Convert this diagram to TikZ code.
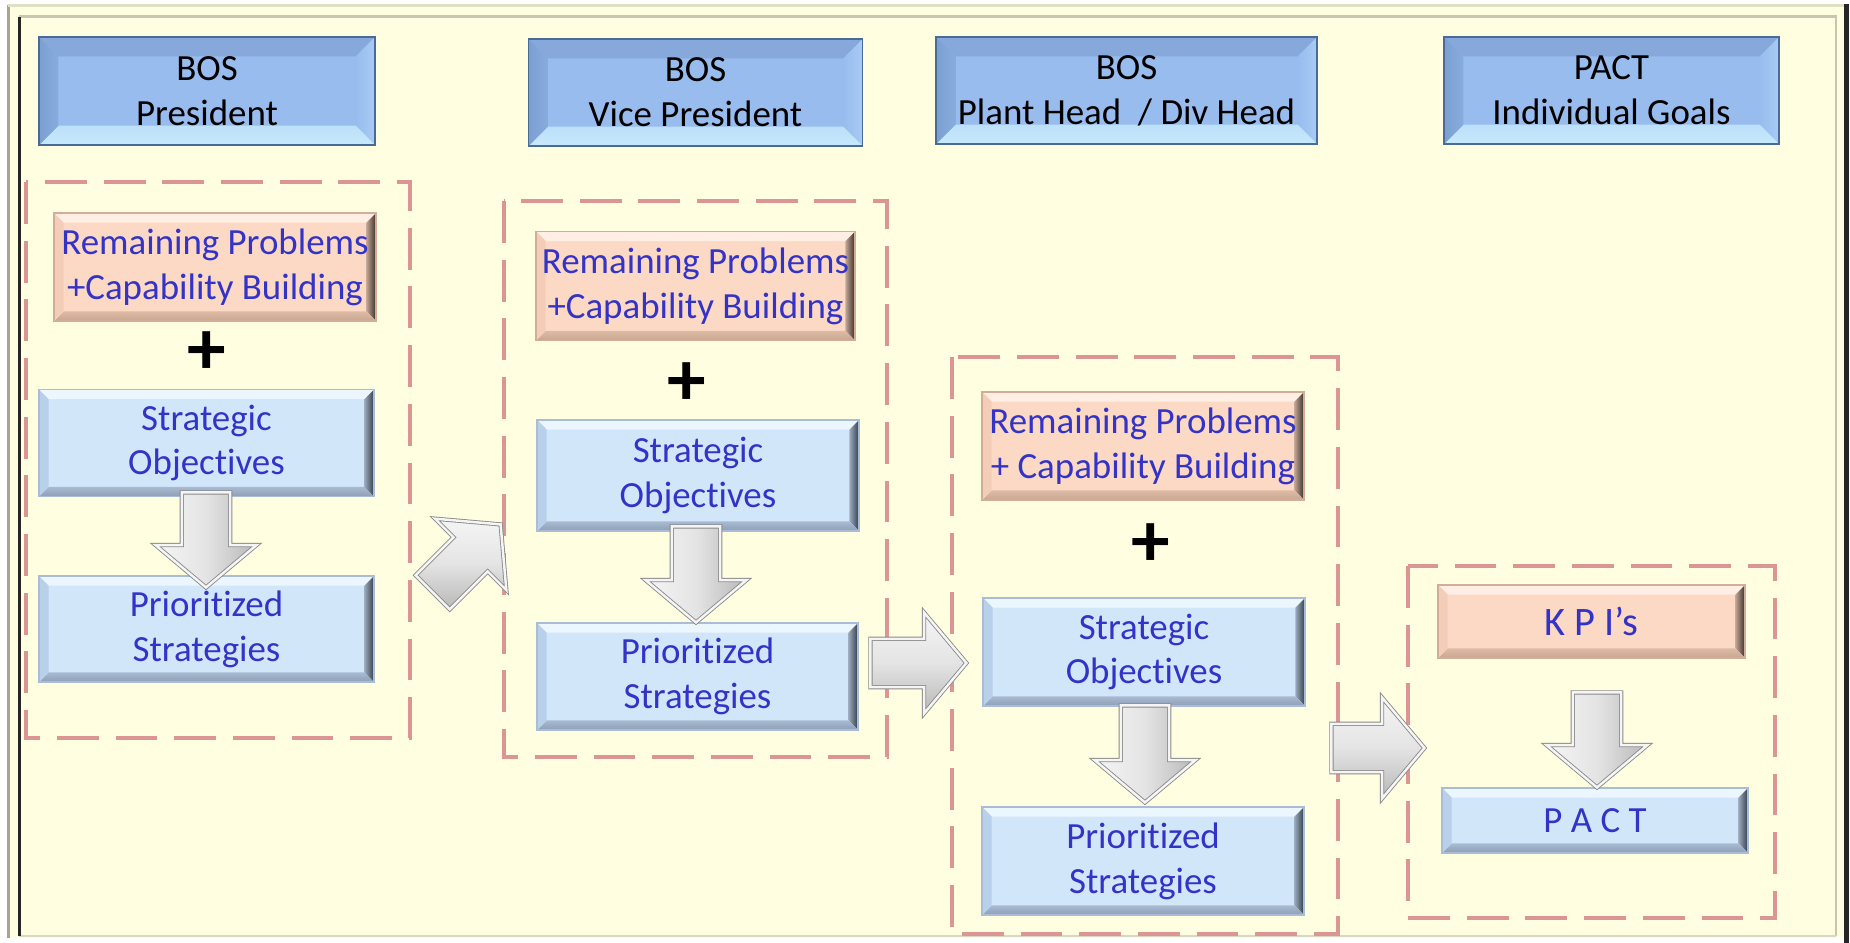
\documentclass[tikz,border=0pt]{standalone}
\usepackage{fontspec}
\setmainfont{Carlito}[Ligatures=NoCommon]
\usetikzlibrary{calc,shapes.arrows}

% palette
\definecolor{cream}{HTML}{FFFEE0}
\definecolor{dashpink}{HTML}{DB9595}
\definecolor{txtblue}{HTML}{3333C8}
\definecolor{hdrMain}{HTML}{98BCEE}
\definecolor{hdrTop}{HTML}{86A8DB}
\definecolor{hdrLeft}{HTML}{7C9FD2}
\definecolor{hdrRight}{HTML}{A8CCF4}
\definecolor{hdrBot}{HTML}{C6E9FC}
\definecolor{hdrEdge}{HTML}{4A6A98}
\definecolor{pchMain}{HTML}{FCD9C4}
\definecolor{pchTop}{HTML}{FFEEE3}
\definecolor{pchLeft}{HTML}{F4CDB8}
\definecolor{pchRight}{HTML}{3A2E28}
\definecolor{pchBot}{HTML}{C9A690}
\definecolor{pchEdge}{HTML}{D2AE98}
\definecolor{lbMain}{HTML}{D2E6FA}
\definecolor{lbTop}{HTML}{ECF6FF}
\definecolor{lbLeft}{HTML}{B9D0EA}
\definecolor{lbRight}{HTML}{343C4A}
\definecolor{lbBot}{HTML}{8D9EB6}
\definecolor{lbEdge}{HTML}{A9BDD6}
\definecolor{arrBody}{HTML}{E4E4E4}
\definecolor{arrEdge}{HTML}{8A8A8A}

\newcommand\boxfont{\fontsize{21}{25.5}\selectfont}

% four bevel bands inside a rectangular node: top, right, bottom, left, width
\newcommand\bevelpic[5]{%
  \path[#1] let \p1=(path picture bounding box.north west),
                \p2=(path picture bounding box.south east) in
    (\x1,\y1) -- (\x2,\y1) -- (\x2-#5,\y1-#5) -- (\x1+#5,\y1-#5) -- cycle;
  \path[#2] let \p1=(path picture bounding box.north west),
                \p2=(path picture bounding box.south east) in
    (\x2,\y1) -- (\x2,\y2) -- (\x2-#5,\y2+#5) -- (\x2-#5,\y1-#5) -- cycle;
  \path[#3] let \p1=(path picture bounding box.north west),
                \p2=(path picture bounding box.south east) in
    (\x1,\y2) -- (\x2,\y2) -- (\x2-#5,\y2+#5) -- (\x1+#5,\y2+#5) -- cycle;
  \path[#4] let \p1=(path picture bounding box.north west),
                \p2=(path picture bounding box.south east) in
    (\x1,\y1) -- (\x1,\y2) -- (\x1+#5,\y2+#5) -- (\x1+#5,\y1-#5) -- cycle;
}

\tikzset{
  sz/.style 2 args={minimum width=#1*0.02cm, minimum height=#2*0.02cm},
  basebox/.style={rectangle, inner sep=0pt, align=center, font=\boxfont},
  hdrbox/.style={basebox, text=black, fill=hdrMain, draw=hdrEdge, line width=0.9pt,
    path picture={\bevelpic{fill=hdrTop}{left color=hdrMain, right color=hdrRight}%
      {top color=hdrBot!80!hdrMain, bottom color=hdrBot}{left color=hdrLeft, right color=hdrLeft!55!hdrMain}{11pt}}},
  pchbox/.style={basebox, text=txtblue, fill=pchMain, draw=pchEdge, line width=0.7pt,
    path picture={\bevelpic{fill=pchTop}{left color=pchMain!70!pchRight, right color=pchRight}%
      {top color=pchBot!60!pchMain, bottom color=pchBot}{fill=pchLeft}{5.5pt}}},
  lbbox/.style={basebox, text=txtblue, fill=lbMain, draw=lbEdge, line width=0.7pt,
    path picture={\bevelpic{fill=lbTop}{left color=lbMain!65!lbRight, right color=lbRight}%
      {top color=lbBot!60!lbMain, bottom color=lbBot}{fill=lbLeft}{5.5pt}}},
  plus/.style={inner sep=0pt, font=\fontsize{44}{44}\selectfont\bfseries},
  groupbox/.style={draw=dashpink, line width=2.8pt, dash pattern=on 23.8pt off 9.6pt},
  % gray block arrow: shaft about 55px, head about 105px wide, length in px, placed by its tip
  garrow/.style={single arrow, anchor=tip, inner xsep=0pt, inner ysep=13.5pt, minimum width=0pt,
    minimum height=#1*0.02cm,
    single arrow head extend=15pt, single arrow tip angle=100, single arrow head indent=0pt,
    draw=arrEdge, line width=0.5pt, double=white!96!black, double distance=1.4pt},
  downshade/.style={left color=white!96!black, right color=black!28, middle color=arrBody},
  sideshade/.style={top color=white!96!black, bottom color=black!28, middle color=arrBody},
}

\begin{document}
\begin{tikzpicture}[x=0.02cm, y=-0.02cm]
\useasboundingbox (0,0) rectangle (1850,943);

% page frame
\fill[white] (0,0) rectangle (1850,943);
\fill[cream] (7,5) rectangle (1848,938);
\draw[color=black!35!cream, line width=1.6pt] (8.5,5) -- (8.5,938);
\draw[color=black!12!cream, line width=1.2pt] (8,5.5) -- (1845,5.5);
\draw[color=black!22!cream, line width=1.2pt] (19,16.5) -- (1836,16.5) -- (1836,936);
\draw[color=black!15!cream, line width=1.2pt] (19,936) -- (1836,936);
\draw[color=black!85, line width=1.8pt] (19.5,17) -- (19.5,936);
\draw[color=black!85, line width=2.8pt] (1846.5,4) -- (1846.5,943);

% dashed groups
\draw[groupbox] (26,182) rectangle (410,738);
\draw[groupbox] (504,201) rectangle (887,757);
\draw[groupbox] (952,357) rectangle (1338,934);
\draw[groupbox] (1408,566) rectangle (1775,918);

% level headers
\node[hdrbox, sz={336}{108}] (h1) at (207,91)    {BOS\\President};
\node[hdrbox, sz={334}{107}] (h2) at (695.5,92.5) {BOS\\Vice President};
\node[hdrbox, sz={381}{107}] (h3) at (1126.5,90.5) {BOS\\Plant Head~ / Div Head};
\node[hdrbox, sz={335}{107}] (h4) at (1611.5,90.5) {PACT\\Individual Goals};

% President column
\node[pchbox, sz={322}{108}] (r1) at (215,267)    {Remaining Problems\\+Capability Building};
\node[plus] (p1) at (207,353) {+};
\node[lbbox, sz={335}{107}] (s1) at (206.5,443)  {Strategic\\Objectives};
\node[lbbox, sz={335}{106}] (q1) at (206.5,629)  {Prioritized\\Strategies};

% Vice President column
\node[pchbox, sz={319}{109}] (r2) at (695.5,286)  {Remaining Problems\\+Capability Building};
\node[plus] (p2) at (687,384) {+};
\node[lbbox, sz={322}{111}] (s2) at (698,475.5)   {Strategic\\Objectives};
\node[lbbox, sz={321}{107}] (q2) at (697.5,676.5) {Prioritized\\Strategies};

% Plant / division column
\node[pchbox, sz={322}{108}] (r3) at (1143,446)   {Remaining Problems\\+ Capability Building};
\node[plus] (p3) at (1151,545) {+};
\node[lbbox, sz={322}{108}] (s3) at (1144,652)    {Strategic\\Objectives};
\node[lbbox, sz={322}{108}] (q3) at (1143,861)    {Prioritized\\Strategies};

% individual goals column
\node[pchbox, sz={307}{73}, font=\fontsize{23}{27}\selectfont] (k4) at (1591.5,621.5) {K P I’s};
\node[lbbox, sz={306}{65}] (q4) at (1595,820.5) {P A C T};

% block arrows inside the columns
\node[garrow=95, rotate=-90, downshade] (d1) at (206,588)  {};
\node[garrow=96, rotate=-90, downshade] (d2) at (696,623)  {};
\node[garrow=97, rotate=-90, downshade] (d3) at (1145,803) {};
\node[garrow=95, rotate=-90, downshade] (d4) at (1597,788) {};

% block arrows between the columns
\node[garrow=96, rotate=45, sideshade] (a1) at (501,524)  {};
\node[garrow=96, sideshade] (a2) at (967,663)  {};
\node[garrow=93, sideshade] (a3) at (1425,748) {};
\end{tikzpicture}
\end{document}
